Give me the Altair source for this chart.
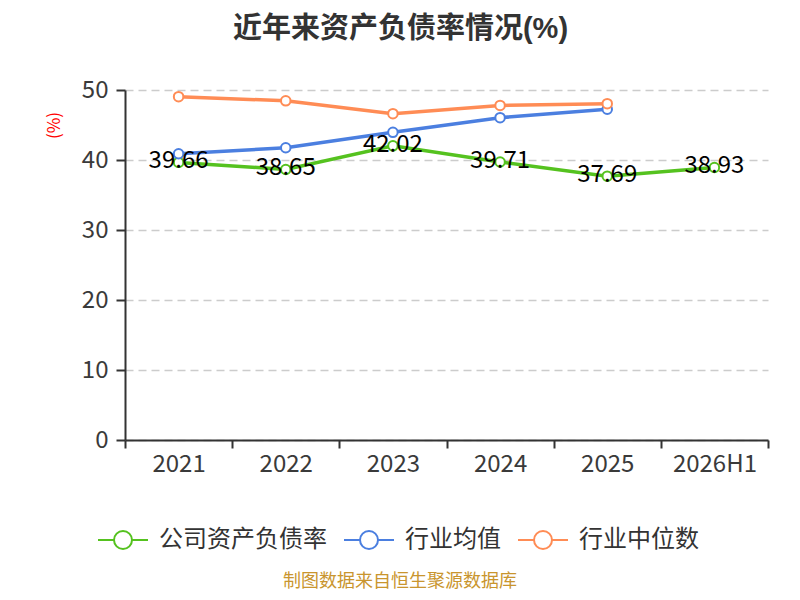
import altair as alt
import pandas as pd

years = ["2021", "2022", "2023", "2024", "2025", "2026H1"]
company = [39.66, 38.65, 42.02, 39.71, 37.69, 38.93]
industry_avg = [40.9, 41.75, 43.95, 46.05, 47.25]
industry_median = [49.05, 48.45, 46.62, 47.8, 48.05]

series_names = ["公司资产负债率", "行业均值", "行业中位数"]
series_colors = ["#55C21F", "#4B7FE0", "#FF8C55"]
title_text = "近年来资产负债率情况(%)"
source_text = "制图数据来自恒生聚源数据库"

rows = []
for y, v in zip(years, company):
    rows.append({"year": y, "value": v, "series": series_names[0]})
for y, v in zip(years, industry_avg):
    rows.append({"year": y, "value": v, "series": series_names[1]})
for y, v in zip(years, industry_median):
    rows.append({"year": y, "value": v, "series": series_names[2]})
df = pd.DataFrame(rows)
df["order"] = df["series"].map({s: i for i, s in enumerate(series_names)})

FONT = "Noto Sans CJK SC"
TITLE_FONT = "Liberation Sans, Noto Sans CJK SC"

legend_path = ("M-1,0L-0.36,0M0.36,0L1,0"
               "M-0.36,0A0.36,0.36,0,1,0,0.36,0A0.36,0.36,0,1,0,-0.36,0")

x_enc = alt.X("year:N", sort=years,
              scale=alt.Scale(type="band", paddingInner=0, paddingOuter=0),
              axis=alt.Axis(title=None, tickBand="extent", labelAngle=0,
                            labelFontSize=24, labelColor="#3a3a3a", labelFont=FONT,
                            labelPadding=4, domainColor="#333333", domainWidth=2,
                            tickColor="#333333", tickWidth=2, tickSize=8, grid=False))
y_enc = alt.Y("value:Q",
              scale=alt.Scale(domain=[0, 50], nice=False, zero=True),
              axis=alt.Axis(title="(%)", titleColor="#FF0000", titleFontSize=17,
                            titleFont=FONT, titleFontWeight="normal",
                            titleX=-62, titleY=35, titleAngle=270,
                            values=[0, 10, 20, 30, 40, 50],
                            labelFontSize=24, labelColor="#3a3a3a", labelFont=FONT,
                            labelPadding=8, domainColor="#333333", domainWidth=2,
                            tickColor="#333333", tickWidth=2, tickSize=9,
                            grid=True, gridColor="#CCCCCC", gridDash=[8, 5],
                            gridWidth=1.5))
color_enc = alt.Color("series:N",
                      scale=alt.Scale(domain=series_names, range=series_colors),
                      legend=alt.Legend(title=None, orient="none", direction="horizontal",
                                        legendX=-28, legendY=424,
                                        symbolType=legend_path, symbolSize=2500,
                                        symbolStrokeWidth=2, symbolFillColor="white",
                                        labelFontSize=24, labelFont=FONT,
                                        labelColor="#333333", labelOffset=10,
                                        labelLimit=0, columnPadding=13))

base = alt.Chart(df)

lines = base.mark_line(strokeWidth=3.5).encode(
    x=x_enc, y=y_enc, color=color_enc, order=alt.Order("order:Q"),
    detail="series:N"
)
points = base.mark_point(filled=False, fill="white", size=90, strokeWidth=2,
                         opacity=1).encode(
    x=x_enc, y=y_enc, color=alt.Color("series:N",
                                      scale=alt.Scale(domain=series_names, range=series_colors),
                                      legend=None)
)
labels = base.transform_filter(
    alt.datum.series == series_names[0]
).mark_text(fontSize=24, font=FONT, color="#000000", baseline="middle", dy=-1).encode(
    x=x_enc, y=y_enc, text=alt.Text("value:Q", format=".2f")
)
source = alt.Chart(pd.DataFrame({"t": [source_text]})).mark_text(
    fontSize=18, font=FONT, color="#C9952E", align="center", baseline="middle"
).encode(x=alt.value(275), y=alt.value(492), text="t:N")

chart = alt.layer(lines, points, labels, source).properties(
    width=643, height=350,
    autosize=alt.AutoSizeParams(type="none"),
    padding={"left": 117, "top": 82, "right": 24, "bottom": 152},
    title=alt.TitleParams(title_text, fontSize=29, font=TITLE_FONT, fontWeight="bold",
                          color="#333333", anchor="middle", dx=-46, offset=34),
).configure_view(stroke=None)

chart.save("out.html", embed_options={"renderer": "svg", "actions": False})
